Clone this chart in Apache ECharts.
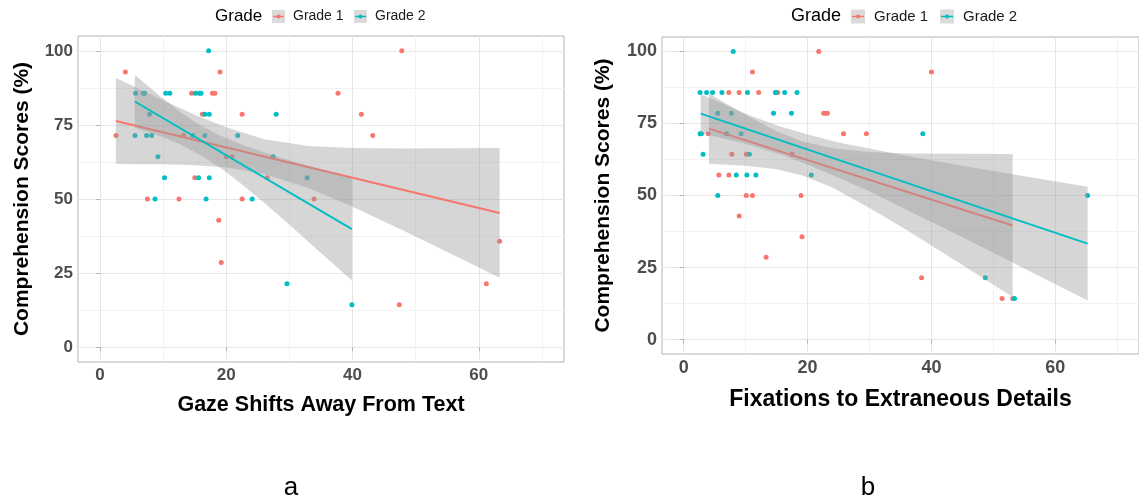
<!DOCTYPE html>
<html><head><meta charset="utf-8">
<script src="https://cdn.jsdelivr.net/npm/echarts@6/dist/echarts.min.js"></script>
<style>html,body{margin:0;padding:0;background:#fff}#c{width:1139px;height:503px}</style>
</head><body><div id="c"></div>
<script>
// ---------- data ----------
const groups = ['Grade 1', 'Grade 2'];
const colors = ['#F8766D', '#00BFC4'];
const yTicks = [0, 25, 50, 75, 100];
const yMinor = [12.5, 37.5, 62.5, 87.5];
const xTicks = [0, 20, 40, 60];
const xMinor = [10, 30, 50, 70];
const xTitles = ['Gaze Shifts Away From Text', 'Fixations to Extraneous Details'];
const yTitle = 'Comprehension Scores (%)';
const panelLabels = ['a', 'b'];
const legendTitle = 'Grade';

// Panel a: gaze shifts (x, score)
const gazeG1 = [[2.53,71.43],[4.0,92.86],[7.5,50],[12.5,50],[13.2,71.43],[14.5,85.71],[15.0,57.14],[16.2,78.57],
  [17.8,85.71],[18.2,85.71],[19.0,92.86],[18.8,42.86],[19.2,28.57],[20.0,64.29],[20.9,64.29],[22.5,78.57],[22.5,50],
  [26.5,57.14],[33.9,50],[37.7,85.71],[41.4,78.57],[43.2,71.43],[47.8,100],[47.4,14.29],[61.2,21.43],[63.3,35.71]];
const gazeG2 = [[5.63,85.71],[6.84,85.71],[7.05,85.71],[7.84,78.57],[5.53,71.43],[7.37,71.43],[8.16,71.43],[9.16,64.29],
  [10.2,57.14],[8.7,50],[10.4,85.71],[11.05,85.71],[14.7,71.43],[15.1,85.71],[15.7,85.71],[16.0,85.71],[15.6,57.14],
  [16.6,78.57],[17.3,78.57],[16.6,71.43],[16.8,50],[17.3,57.14],[17.2,100],[21.8,71.43],[24.1,50],[27.9,78.57],
  [27.4,64.29],[29.6,21.43],[32.8,57.14],[39.9,14.29]];
const gazeFitG1 = [[2.5,76.3],[63.3,45.3]];
const gazeFitG2 = [[5.5,82.9],[39.9,39.8]];
// band: [x, lower, upper]
const gazeBandG1 = [[2.5,61.8,90.8],[10,61.7,83.3],[15,61.4,78.4],[20,60.6,74.2],[26,58.4,70.2],[33,53.7,67.9],
  [40,47.4,67.2],[48,39.4,67.0],[56,31.1,67.1],[63.3,23.4,67.2]];
const gazeBandG2 = [[5.5,74.0,91.8],[10,70.8,83.8],[13,68.1,78.9],[16,64.7,74.7],[19,60.6,71.4],[22,55.7,68.7],
  [26,48.7,65.7],[30,41.3,63.1],[35,31.8,60.0],[39.9,22.5,57.1]];

// Panel b: fixations to extraneous details (x, score)
const fixG1 = [[7.29,85.71],[8.95,85.71],[12.1,85.71],[15.2,85.71],[21.8,100],[11.1,92.86],[40.0,92.86],[22.6,78.57],
  [22.9,78.57],[23.2,78.57],[3.97,71.43],[25.8,71.43],[29.5,71.43],[7.78,64.29],[10.1,64.29],[17.5,64.29],[5.67,57.14],
  [7.3,57.14],[10.1,50],[11.1,50],[18.95,50],[8.95,42.86],[19.1,35.71],[13.3,28.57],[38.4,21.43],[51.4,14.29],[53.1,14.29]];
const fixG2 = [[2.65,85.71],[3.7,85.71],[4.67,85.71],[6.17,85.71],[10.3,85.71],[14.8,85.71],[14.9,85.71],[16.3,85.71],
  [18.3,85.71],[8.0,100],[5.5,78.57],[7.7,78.57],[14.5,78.57],[17.4,78.57],[2.65,71.43],[2.86,71.43],[6.94,71.43],
  [9.27,71.43],[38.6,71.43],[3.13,64.29],[10.6,64.29],[8.5,57.14],[10.2,57.14],[11.65,57.14],[20.6,57.14],[5.5,50],
  [65.2,50],[48.7,21.43],[53.4,14.29]];
const fixFitG1 = [[4.08,73.2],[53.1,39.6]];
const fixFitG2 = [[2.76,78.4],[65.2,33.3]];
const fixBandG1 = [[4.08,61.0,85.4],[10,60.3,77.9],[15,59.1,72.3],[19.2,56.9,68.7],[24,52.8,66.4],[30,45.7,65.1],
  [36,38.0,64.6],[45,25.9,64.5],[53.1,14.8,64.4]];
const fixBandG2 = [[2.76,71.6,85.2],[10,68.0,78.4],[15.3,64.5,74.1],[20,60.8,71.2],[25,56.2,68.4],[30,51.5,66.3],
  [35,46.1,64.1],[45,35.5,60.3],[55,24.7,56.7],[65.2,13.6,53.0]];

// ---------- layout ----------
const FONT = 'Liberation Sans, Arial, sans-serif';
const panels = [
  {grid:{left:78, top:36, width:486, height:326}, pts:[gazeG1,gazeG2], fits:[gazeFitG1,gazeFitG2], bands:[gazeBandG1,gazeBandG2],
   xGap:32, yGap:45, tickFont:17, xTitleFont:21.5, yTitleFont:21,
   legend:{titleX:215, y:16.5, titleFont:17, itemFont:14, keys:[272,354], texts:[293,375], keySize:13},
   label:{x:291, y:488}},
  {grid:{left:662, top:37, width:485, height:317}, pts:[fixG1,fixG2], fits:[fixFitG1,fixFitG2], bands:[fixBandG1,fixBandG2],
   xGap:34, yGap:48, tickFont:18, xTitleFont:23, yTitleFont:21,
   legend:{titleX:791, y:16.5, titleFont:18, itemFont:15, keys:[851,940], texts:[874,963], keySize:14},
   label:{x:868, y:488}}
];

const grid = [], xAxis = [], yAxis = [], series = [], graphic = [];
panels.forEach((p, pi) => {
  grid.push(Object.assign({show:true, borderColor:'#b3b3b3', borderWidth:1, backgroundColor:'#fff'}, p.grid));
  const common = {type:'value', gridIndex:pi, min:-3.5, max:73.5};
  xAxis.push(Object.assign({}, common, {
    axisLine:{show:false},
    axisTick:{show:true, length:4, lineStyle:{color:'#b3b3b3'}, customValues:xTicks},
    axisLabel:{customValues:xTicks, fontSize:p.tickFont, fontWeight:'bold', color:'#4d4d4d', fontFamily:FONT, margin:5},
    splitLine:{show:true, lineStyle:{color:'#e6e6e6', width:1}},
    name:xTitles[pi], nameLocation:'middle', nameGap:p.xGap,
    nameTextStyle:{fontSize:p.xTitleFont, fontWeight:'bold', color:'#000', fontFamily:FONT}
  }));
  xAxis.push(Object.assign({}, common, {
    position:'top', axisLine:{show:false}, axisLabel:{show:false},
    axisTick:{show:false, customValues:xMinor},
    splitLine:{show:true, lineStyle:{color:'#f2f2f2', width:1}}, z:0
  }));
  const ycommon = {type:'value', gridIndex:pi, min:-5, max:105};
  yAxis.push(Object.assign({}, ycommon, {
    axisLine:{show:false},
    axisTick:{show:true, length:4, lineStyle:{color:'#b3b3b3'}, customValues:yTicks},
    axisLabel:{customValues:yTicks, fontSize:p.tickFont, fontWeight:'bold', color:'#4d4d4d', fontFamily:FONT, margin:5},
    splitLine:{show:true, lineStyle:{color:'#e6e6e6', width:1}},
    name:yTitle, nameLocation:'middle', nameGap:p.yGap,
    nameTextStyle:{fontSize:p.yTitleFont, fontWeight:'bold', color:'#000', fontFamily:FONT}
  }));
  yAxis.push(Object.assign({}, ycommon, {
    position:'right', axisLine:{show:false}, axisLabel:{show:false},
    axisTick:{show:false, customValues:yMinor},
    splitLine:{show:true, lineStyle:{color:'#f2f2f2', width:1}}, z:0
  }));
  const xi = pi * 2, yi = pi * 2;
  groups.forEach((g, gi) => {
    series.push({type:'scatter', name:g, xAxisIndex:xi, yAxisIndex:yi, data:p.pts[gi], symbolSize:5, z:2,
      itemStyle:{color:colors[gi], opacity:1}, silent:true});
  });
  groups.forEach((g, gi) => {
    const band = p.bands[gi];
    series.push({type:'custom', name:g + ' band', xAxisIndex:xi, yAxisIndex:yi, data:band, silent:true, z:3 + gi*2,
      encode:{x:0, y:[1,2]},
      renderItem:(params, api) => {
        if (params.dataIndex !== 0) return null;
        const up = band.map(d => api.coord([d[0], d[2]]));
        const lo = band.slice().reverse().map(d => api.coord([d[0], d[1]]));
        return {type:'polygon', shape:{points:up.concat(lo)}, style:{fill:'rgba(153,153,153,0.4)'}};
      }});
    series.push({type:'line', name:g, xAxisIndex:xi, yAxisIndex:yi, data:p.fits[gi], symbol:'none', z:4 + gi*2,
      lineStyle:{color:colors[gi], width:2}, itemStyle:{color:colors[gi]}, silent:true});
  });
  // legend (drawn as graphic elements)
  const L = p.legend;
  graphic.push({type:'text', x:L.titleX, y:L.y,
    style:{text:legendTitle, font:`${L.titleFont}px ${FONT}`, fill:'#000', textVerticalAlign:'middle'}});
  groups.forEach((g, gi) => {
    const kx = L.keys[gi], ks = L.keySize, ky = L.y - ks/2;
    graphic.push({type:'rect', shape:{x:kx, y:ky, width:ks, height:ks}, style:{fill:'#dadada'}});
    graphic.push({type:'line', shape:{x1:kx+1, y1:L.y, x2:kx+ks-1, y2:L.y}, style:{stroke:colors[gi], lineWidth:1.5}});
    graphic.push({type:'circle', shape:{cx:kx+ks/2, cy:L.y, r:2}, style:{fill:colors[gi]}});
    graphic.push({type:'text', x:L.texts[gi], y:L.y,
      style:{text:g, font:`${L.itemFont}px ${FONT}`, fill:'#1a1a1a', textVerticalAlign:'middle'}});
  });
  graphic.push({type:'text', x:p.label.x, y:p.label.y,
    style:{text:panelLabels[pi], font:`26px ${FONT}`, fill:'#000', textAlign:'center', textVerticalAlign:'middle'}});
});

const chart = echarts.init(document.getElementById('c'), null, {renderer:'canvas'});
chart.setOption({animation:false, backgroundColor:'#fff', grid, xAxis, yAxis, series, graphic});
</script>
</body></html>
